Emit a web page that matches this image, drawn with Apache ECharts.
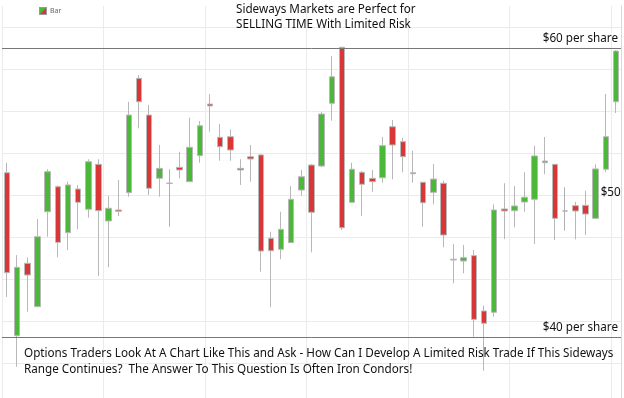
<!DOCTYPE html>
<html lang="en" style="background: #FFFFFF;height: 100%">
	<head>
		<meta charset="utf-8" />
		<title>Sideways Markets</title>
		<script src="https://cdn.jsdelivr.net/npm/echarts@6/dist/echarts.min.js"></script>
	</head>
	<style>
		html,body {
			margin: 0;
			padding: 0;
		}
		body {
			overflow: hidden;
		}
	</style>
	<body style="height: 100%;">
		<div id="chart" style="width: 624px;height: 398px"></div>
		<script>
			// prices, one value per bar
			var opens  = [51.37,40.09,45.10,42.10,48.67,50.40,47.22,50.24,48.84,51.95,
			              48.03,48.79,49.99,57.90,55.36,50.98,50.64,51.74,50.75,52.55,
			              56.12,53.82,53.86,51.67,52.48,52.60,46.83,46.07,46.53,50.17,
			              51.90,51.83,56.17,60.05,49.32,51.40,50.98,51.02,54.55,53.52,
			              51.37,50.71,50.01,50.64,45.38,45.26,45.63,41.80,41.71,48.86,
			              48.74,49.34,49.53,52.06,51.95,48.72,49.09,49.11,48.21,51.61,
			              56.28];
			var closes = [44.45,44.82,44.29,46.94,51.44,46.55,50.52,49.32,52.13,48.74,
			              48.91,48.70,55.36,56.28,50.29,51.67,50.64,51.56,53.13,54.62,
			              55.99,53.17,52.94,51.56,52.32,45.95,45.97,47.45,49.53,51.09,
			              48.63,55.43,58.01,47.56,51.61,50.57,50.75,53.24,53.29,52.48,
			              51.30,49.29,50.93,47.06,45.33,45.49,41.22,40.95,48.79,48.72,
			              49.07,49.67,52.53,52.18,48.21,48.72,48.72,48.51,51.63,53.86,
			              59.79];
			var lows   = [42.77,37.94,41.75,42.08,46.94,45.52,46.02,47.45,48.26,44.22,
			              44.82,48.37,49.71,54.44,49.83,49.71,47.63,50.98,50.73,52.06,
			              54.21,52.20,52.20,50.52,50.75,44.52,42.06,45.38,46.51,49.78,
			              45.86,51.76,54.97,47.40,49.30,48.37,50.06,50.68,50.91,51.40,
			              50.68,47.63,49.18,46.21,43.72,44.41,40.02,37.67,41.40,46.78,
			              47.59,48.67,46.44,51.26,46.71,47.36,46.76,47.06,48.20,51.40,
			              55.50];
			var highs  = [52.06,45.67,45.49,48.17,51.61,50.50,50.75,50.52,52.30,52.30,
			              49.76,50.87,56.28,58.13,56.06,53.29,51.61,52.82,55.18,54.95,
			              56.82,54.74,54.37,52.30,53.29,52.67,47.29,48.67,50.45,51.56,
			              51.97,55.57,59.45,60.05,52.06,51.49,51.56,53.84,55.02,53.77,
			              52.89,50.73,51.97,50.82,46.44,46.37,46.02,42.17,49.18,50.64,
			              50.45,51.40,53.24,53.84,51.97,50.36,49.36,50.12,51.95,56.82,
			              59.85];
			var days = opens.map(function (v, i) { return String(i + 1); });

			var upColor = '#4cb83a';
			var downColor = '#d93638';
			var font = 'Noto Sans';

			var legendIcon = 'image://data:image/svg+xml;utf8,' + encodeURIComponent(
				'<svg xmlns="http://www.w3.org/2000/svg" width="8" height="8">' +
				'<rect width="8" height="8" fill="#999"/>' +
				'<polygon points="1,1 7,1 1,7" fill="' + upColor + '"/>' +
				'<polygon points="7,1 7,7 1,7" fill="' + downColor + '"/></svg>');

			var candles = [];
			for (var i = 0; i < opens.length; i++) {
				candles.push([opens[i], closes[i], lows[i], highs[i]]);
			}

			var chart = echarts.init(document.getElementById('chart'));
			chart.setOption({
				backgroundColor: '#ffffff',
				animation: false,
				textStyle: { fontFamily: font },
				title: [{
					text: 'Sideways Markets are Perfect for\nSELLING TIME With Limited Risk',
					left: 236,
					top: 2,
					padding: 0,
					textStyle: { fontSize: 11.7, fontWeight: 'normal', color: '#111', lineHeight: 15, fontFamily: font }
				}, {
					text: 'Options Traders Look At A Chart Like This and Ask - How Can I Develop A Limited Risk Trade If This Sideways\nRange Continues?  The Answer To This Question Is Often Iron Condors!',
					left: 24,
					top: 346,
					padding: 0,
					textStyle: { fontSize: 11.7, fontWeight: 'normal', color: '#111', lineHeight: 16, fontFamily: font }
				}],
				legend: {
					left: 34,
					top: 2,
					itemWidth: 8,
					itemHeight: 8,
					itemGap: 3,
					icon: legendIcon,
					textStyle: { fontSize: 7, color: '#666', padding: [0, 0, 0, -2] },
					data: ['Bar']
				},
				grid: { left: 2, right: 3, top: 6, height: 399, outerBoundsMode: 'none' },
				xAxis: {
					type: 'category',
					data: days,
					boundaryGap: true,
					axisLine: { show: false },
					axisTick: { show: false },
					axisLabel: { show: false },
					splitLine: { show: true, interval: 9, lineStyle: { color: '#ebebeb' } }
				},
				yAxis: [{
					type: 'value',
					min: 35.294,
					max: 62.907,
					axisLine: { show: false },
					axisTick: { show: false },
					axisLabel: { show: false },
					splitLine: { show: false }
				}, {
					// light horizontal grid, spaced like the picture
					type: 'value',
					position: 'right',
					min: 0,
					max: 399,
					interval: 42,
					axisLine: { show: true, lineStyle: { color: '#cddcee' } },
					axisTick: { show: false },
					axisLabel: { show: false },
					splitLine: { show: true, showMaxLine: false, lineStyle: { color: '#ebebeb' } }
				}],
				series: [{
					name: 'Bar',
					type: 'candlestick',
					yAxisIndex: 0,
					barWidth: 6,
					data: candles,
					itemStyle: {
						color: upColor,
						color0: downColor,
						borderColor: '#b8b8b8',
						borderColor0: '#b8b8b8',
						borderColorDoji: '#b0b0b0',
						borderWidth: 1
					},
					markLine: {
						silent: true,
						symbol: 'none',
						lineStyle: { color: '#777777', width: 1, type: 'solid' },
						label: { position: 'insideEndTop', color: '#111', fontSize: 11.7, distance: [3, 3] },
						data: [
							{ yAxis: 60, label: { formatter: '$60 per share' } },
							{ yAxis: 40, label: { formatter: '$40 per share' } },
							[
								{
									coord: [0, 50],
									lineStyle: { color: 'rgba(0,0,0,0)', width: 0 },
									label: { position: 'end', formatter: '$50', distance: 5, opacity: 1 }
								},
								{ coord: [58, 50] }
							]
						]
					}
				}]
			});
		</script>
	</body>
</html>
